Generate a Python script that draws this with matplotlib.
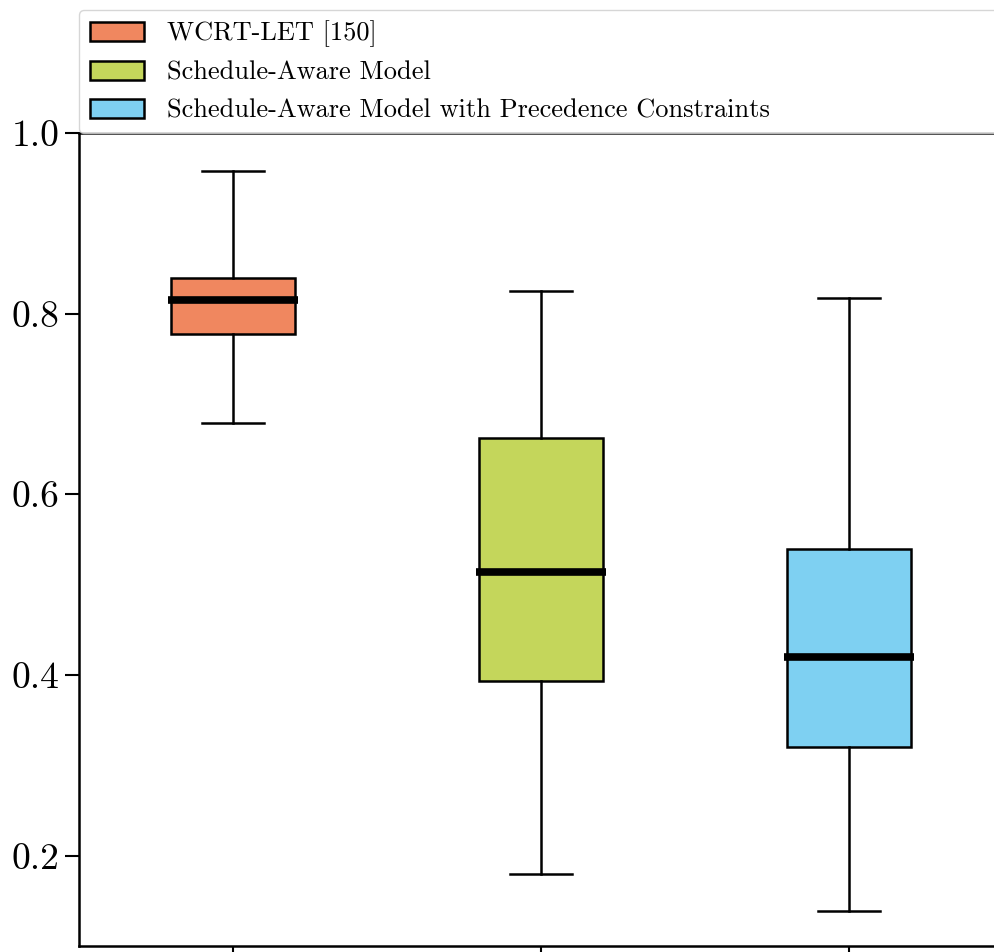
import matplotlib
matplotlib.use("Agg")
import matplotlib.pyplot as plt
from matplotlib.patches import Patch

plt.rcParams["font.family"] = "serif"
plt.rcParams["font.serif"] = ["cmr10", "DejaVu Serif"]
plt.rcParams["mathtext.fontset"] = "cm"
plt.rcParams["axes.formatter.use_mathtext"] = True

labels = ["WCRT-LET [150]", "Schedule-Aware Model",
          "Schedule-Aware Model with Precedence Constraints"]
colors = ["#F0875F", "#C4D65B", "#7ED0F2"]
whislo = [0.679, 0.180, 0.139]
q1 = [0.778, 0.393, 0.320]
med = [0.815, 0.514, 0.420]
q3 = [0.840, 0.662, 0.540]
whishi = [0.958, 0.825, 0.817]

stats = [dict(label=l, whislo=a, q1=b, med=c, q3=d, whishi=e, fliers=[])
         for l, a, b, c, d, e in zip(labels, whislo, q1, med, q3, whishi)]

fig = plt.figure(figsize=(9.94, 9.52), dpi=100)
ax = fig.add_axes([79 / 994, 6 / 952, 924 / 994, 813 / 952])

bp = ax.bxp(stats, positions=[1, 2, 3], widths=0.4, patch_artist=True,
            showfliers=False,
            boxprops=dict(linewidth=1.8, edgecolor="black"),
            whiskerprops=dict(linewidth=1.8, color="black"),
            capprops=dict(linewidth=1.8, color="black"),
            medianprops=dict(linewidth=5.5, color="black"))
for patch, c in zip(bp["boxes"], colors):
    patch.set_facecolor(c)
for m in bp["medians"]:
    x0, x1 = m.get_xdata()[:2]
    m.set_xdata([x0 - 0.01, x1 + 0.01])

ax.set_xlim(0.5, 3.5)
ax.set_ylim(0.1, 1.0)
ax.set_yticks([0.2, 0.4, 0.6, 0.8, 1.0])
ax.set_yticklabels(["0.2", "0.4", "0.6", "0.8", "1.0"])
ax.set_xticks([1, 2, 3])
ax.set_xticklabels(["", "", ""])
ax.tick_params(axis="both", length=10, width=1.5, labelsize=27, pad=4)
for s in ax.spines.values():
    s.set_linewidth(1.8)

handles = [Patch(facecolor=c, edgecolor="black", linewidth=1.8, label=l)
           for c, l in zip(colors, labels)]
ax.legend(handles=handles, loc="lower left", bbox_to_anchor=(0, 1.0, 1, 0.1),
          mode="expand", borderaxespad=0, fontsize=19, handlelength=2.05,
          handleheight=0.75, handletextpad=0.87, labelspacing=0.52)

fig.savefig("out.png", dpi=100)
